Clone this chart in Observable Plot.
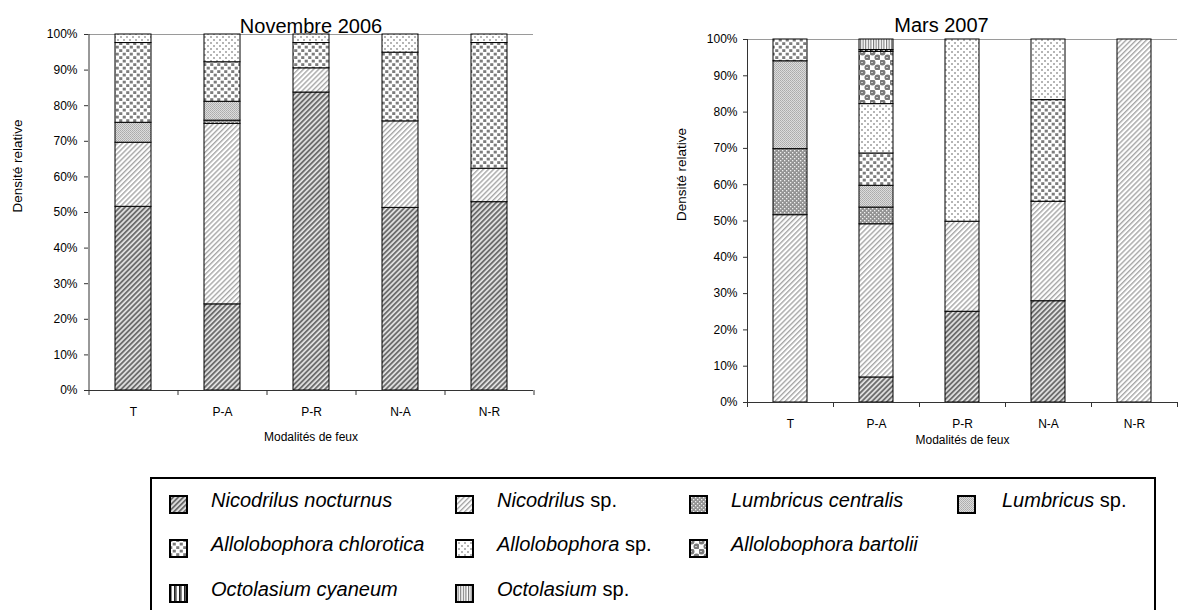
<!DOCTYPE html>
<html><head><meta charset="utf-8">
<script src="https://cdn.jsdelivr.net/npm/d3@7"></script>
<script src="https://cdn.jsdelivr.net/npm/@observablehq/plot@0.6"></script>
<style>
body{margin:0;background:#fff;font-family:"Liberation Sans",Arial,sans-serif;}
#wrap{position:relative;width:1190px;height:610px;overflow:hidden;background:#fff;}
.chart{position:absolute;top:0;}
#legend{position:absolute;left:150px;top:477px;width:1002px;height:140px;border:2px solid #000;box-sizing:content-box;}
.item{position:absolute;font-size:20px;white-space:nowrap;color:#000;}
.item svg{position:absolute;left:0;top:0;}
.item span{position:absolute;top:0;line-height:22px;}
</style></head>
<body>
<svg width="0" height="0" style="position:absolute">
<defs>
<pattern id="pN" width="3.6" height="3.6" patternUnits="userSpaceOnUse" patternTransform="rotate(45)">
<rect width="3.6" height="3.6" fill="#e4e4e4"/><rect width="1.9" height="3.6" fill="#6e6e6e"/></pattern>
<pattern id="pNs" width="3.6" height="3.6" patternUnits="userSpaceOnUse" patternTransform="rotate(45)">
<rect width="3.6" height="3.6" fill="#fff"/><rect width="1.4" height="3.6" fill="#a6a6a6"/></pattern>
<pattern id="pLc" width="4" height="4" patternUnits="userSpaceOnUse">
<rect width="4" height="4" fill="#939393"/><rect x="0" y="0" width="1.3" height="1.3" fill="#f0f0f0"/><rect x="2" y="2" width="1.3" height="1.3" fill="#f0f0f0"/></pattern>
<pattern id="pLs" width="2" height="2" patternUnits="userSpaceOnUse">
<rect width="2" height="2" fill="#dcdcdc"/><rect width="1" height="1" fill="#ababab"/><rect x="1" y="1" width="1" height="1" fill="#b4b4b4"/></pattern>
<pattern id="pAc" width="7" height="7" patternUnits="userSpaceOnUse">
<rect width="7" height="7" fill="#fff"/><rect x="0.2" y="0.2" width="3.1" height="2.8" fill="#7c7c7c"/><rect x="3.7" y="3.7" width="3.1" height="2.8" fill="#7c7c7c"/></pattern>
<pattern id="pAs" width="6" height="6" patternUnits="userSpaceOnUse">
<rect width="6" height="6" fill="#fff"/><circle cx="1" cy="1" r="1" fill="#9c9c9c"/><circle cx="4" cy="4" r="1" fill="#9c9c9c"/></pattern>
<pattern id="pAb" width="10" height="10" patternUnits="userSpaceOnUse">
<rect width="10" height="10" fill="#fff"/><circle cx="2.5" cy="2.5" r="3" fill="#7a7a7a"/><circle cx="7.5" cy="7.5" r="3" fill="#7a7a7a"/><rect x="1" y="2" width="2" height="0.8" fill="#e0e0e0"/><rect x="6" y="7" width="2" height="0.8" fill="#e0e0e0"/></pattern>
<pattern id="pOc" width="5" height="5" patternUnits="userSpaceOnUse">
<rect width="5" height="5" fill="#fff"/><rect width="1.8" height="5" fill="#222"/><rect x="1.8" width="1.2" height="5" fill="#888"/></pattern>
<pattern id="pOs" width="2.6" height="2.6" patternUnits="userSpaceOnUse">
<rect width="2.6" height="2.6" fill="#fff"/><rect width="1.1" height="2.6" fill="#777"/></pattern>
</defs></svg>
<div id="wrap">
<div id="c1" class="chart" style="left:0px"></div>
<div id="c2" class="chart" style="left:600px"></div>
<div id="legend"></div>
</div>
<script>
// ---- data ----
const categories = ["T", "P-A", "P-R", "N-A", "N-R"];
const species = ["Nicodrilus nocturnus", "Nicodrilus sp.", "Lumbricus centralis", "Lumbricus sp.",
  "Allolobophora chlorotica", "Allolobophora sp.", "Allolobophora bartolii", "Octolasium cyaneum", "Octolasium sp."];
const patternFills = ["url(#pN)", "url(#pNs)", "url(#pLc)", "url(#pLs)", "url(#pAc)", "url(#pAs)", "url(#pAb)", "url(#pOc)", "url(#pOs)"];
const yTicks = [0, 10, 20, 30, 40, 50, 60, 70, 80, 90, 100];

// Novembre 2006 (% per category T, P-A, P-R, N-A, N-R)
const nov_nocturnus   = [51.6, 24.2, 83.7, 51.3, 52.9];
const nov_nicSp       = [18.0, 50.7, 6.8, 24.3, 9.4];
const nov_lCentralis  = [0, 0.9, 0, 0, 0];
const nov_lSp         = [5.6, 5.3, 0, 0, 0];
const nov_chlorotica  = [22.4, 11.1, 7.1, 19.3, 35.3];
const nov_alloSp      = [2.4, 7.8, 2.4, 5.1, 2.4];
const nov_bartolii    = [0, 0, 0, 0, 0];
const nov_oCyaneum    = [0, 0, 0, 0, 0];
const nov_oSp         = [0, 0, 0, 0, 0];

// Mars 2007
const mar_nocturnus   = [0, 6.9, 25.0, 27.9, 0];
const mar_nicSp       = [51.6, 42.2, 24.8, 27.4, 100];
const mar_lCentralis  = [18.2, 4.6, 0, 0, 0];
const mar_lSp         = [24.2, 6.0, 0, 0, 0];
const mar_chlorotica  = [6.0, 8.9, 0, 28.0, 0];
const mar_alloSp      = [0, 13.6, 50.2, 16.7, 0];
const mar_bartolii    = [0, 14.4, 0, 0, 0];
const mar_oCyaneum    = [0, 0.5, 0, 0, 0];
const mar_oSp         = [0, 2.9, 0, 0, 0];

function build(series) {
  const rows = [];
  series.forEach((vals, si) => vals.forEach((v, ci) => { if (v > 0) rows.push({cat: categories[ci], species: species[si], value: v}); }));
  return rows;
}
const novData = build([nov_nocturnus, nov_nicSp, nov_lCentralis, nov_lSp, nov_chlorotica, nov_alloSp, nov_bartolii, nov_oCyaneum, nov_oSp]);
const marData = build([mar_nocturnus, mar_nicSp, mar_lCentralis, mar_lSp, mar_chlorotica, mar_alloSp, mar_bartolii, mar_oCyaneum, mar_oSp]);

function chart(o) {
  const step = (o.width - o.mL - o.mR) / categories.length;
  return Plot.plot({
    width: o.width, height: o.height,
    marginLeft: o.mL, marginRight: o.mR, marginTop: o.mT, marginBottom: o.mB,
    style: {fontFamily: "'Liberation Sans', Arial, sans-serif", fontSize: "12px", color: "#000", background: "transparent", overflow: "visible"},
    x: {domain: categories, paddingInner: 0.6, paddingOuter: 0.3, axis: null},
    y: {domain: [0, 100], axis: null},
    color: {type: "ordinal", domain: species, range: patternFills},
    marks: [
      Plot.ruleY([100], {stroke: "#9a9a9a", strokeWidth: 1.2}),
      Plot.rectY(o.data, Plot.stackY({x: "cat", y: "value", fill: "species", stroke: "#000", strokeWidth: 1})),
      Plot.ruleX([categories[0]], {dx: -step / 2, stroke: "#333"}),
      Plot.ruleY([0], {stroke: "#333"}),
      Plot.axisY(yTicks, {tickSize: 4, tickPadding: o.yPad, tickFormat: d => d + "%", label: null, fontSize: 12, stroke: "#333"}),
      Plot.axisX({tickSize: 5, text: null, dx: -step / 2, label: null, stroke: "#333"}),
      Plot.axisX([categories[categories.length - 1]], {tickSize: 5, text: null, dx: step / 2, label: null, stroke: "#333"}),
      Plot.axisX({tickSize: 0, tickPadding: 17, label: null, fontSize: 12}),
      Plot.text([o.title], {frameAnchor: "top", dy: o.titleDy, dx: o.titleDx, fontSize: 20, lineAnchor: "middle"}),
      Plot.text(["Densité relative"], {frameAnchor: "left", dx: o.ylabDx, rotate: -90, fontSize: 13.5}),
      Plot.text(["Modalités de feux"], {frameAnchor: "bottom", dy: o.xlabDy, fontSize: 12, lineAnchor: "middle"})
    ]
  });
}

document.getElementById("c1").appendChild(chart({
  data: novData, title: "Novembre 2006", width: 560, height: 450, mL: 88, mR: 27, mT: 34, mB: 60,
  yPad: 7, titleDy: -8, titleDx: 0, ylabDx: -71, xlabDy: 47
}));
document.getElementById("c2").appendChild(chart({
  data: marData, title: "Mars 2007", width: 590, height: 460, mL: 147, mR: 13, mT: 39, mB: 58,
  yPad: 6, titleDy: -14, titleDx: -21, ylabDx: -66, xlabDy: 38
}));

// ---- legend ----
const legendRows = [[0, 1, 2, 3], [4, 5, 6], [7, 8]];
const colX = [17, 303, 537, 805];
const rowY = [10, 54, 99];
const legend = document.getElementById("legend");
legendRows.forEach((row, r) => row.forEach((si, c) => {
  const div = document.createElement("div");
  div.className = "item";
  div.style.left = colX[c] + "px";
  div.style.top = rowY[r] + "px";
  const name = species[si];
  const html = name.endsWith(" sp.") ? `<i>${name.slice(0, -4)}</i> sp.` : `<i>${name}</i>`;
  div.innerHTML = `<svg width="20" height="20" style="top:6px"><rect x="1" y="1" width="17" height="17" fill="${patternFills[si]}" stroke="#000" stroke-width="2"/></svg><span style="left:${c === 3 ? 45 : 42}px">${html}</span>`;
  legend.appendChild(div);
}));
</script>
</body></html>
